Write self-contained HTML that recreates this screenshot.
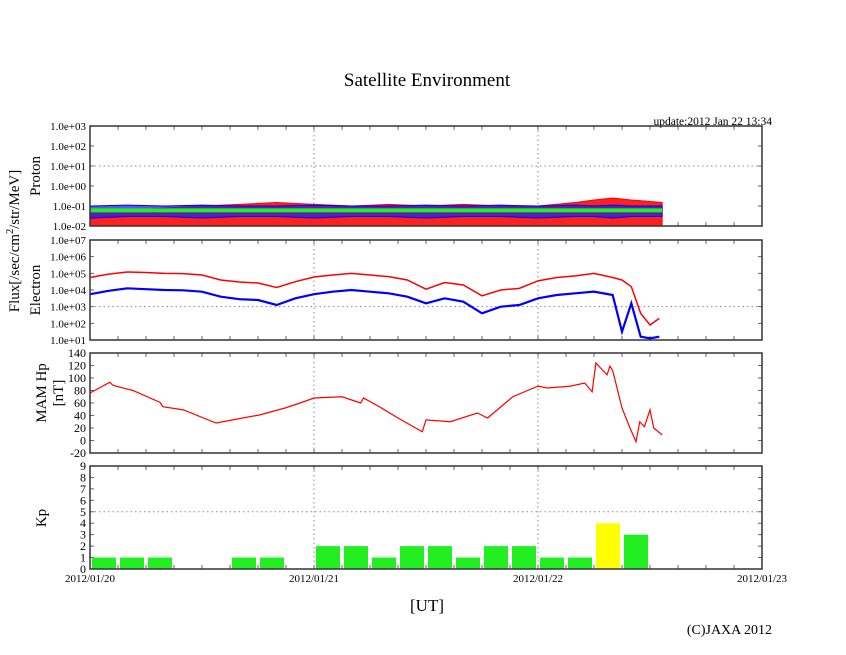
<!DOCTYPE html>
<html><head><meta charset="utf-8"><style>
html,body{margin:0;padding:0;background:#fff}
svg{display:block}
text{font-family:"Liberation Serif",serif;fill:#000}
</style></head><body>
<svg id="chart" width="846" height="655" viewBox="0 0 846 655" xmlns="http://www.w3.org/2000/svg">
<text x="427" y="86" font-size="19" text-anchor="middle">Satellite Environment</text>
<text x="772" y="125" font-size="11.5" text-anchor="end">update:2012 Jan 22 13:34</text>
<text transform="translate(19,241) rotate(-90)" font-size="15" text-anchor="middle">Flux[/sec/cm<tspan font-size="10" dy="-6">2</tspan><tspan dy="6">/str/MeV]</tspan></text>
<text transform="translate(40,176) rotate(-90)" font-size="15" text-anchor="middle">Proton</text>
<text transform="translate(40,290) rotate(-90)" font-size="15" text-anchor="middle">Electron</text>
<text transform="translate(46,393) rotate(-90)" font-size="15" text-anchor="middle">MAM Hp</text>
<text transform="translate(63,393) rotate(-90)" font-size="15" text-anchor="middle">[nT]</text>
<text transform="translate(46,518) rotate(-90)" font-size="15" text-anchor="middle">Kp</text>
<text x="427" y="611" font-size="17" text-anchor="middle">[UT]</text>
<text x="772" y="634" font-size="14" text-anchor="end">(C)JAXA 2012</text>
<g id="plots"></g>
</svg>
<script>
// ---- data ----
const xTickLabels = ["2012/01/20","2012/01/21","2012/01/22","2012/01/23"];
const protonTicks = ["1.0e+03","1.0e+02","1.0e+01","1.0e+00","1.0e-01","1.0e-02"];
const electronTicks = ["1.0e+07","1.0e+06","1.0e+05","1.0e+04","1.0e+03","1.0e+02","1.0e+01"];
const mamTicks = [140,120,100,80,60,40,20,0,-20];
const kpTicks = [9,8,7,6,5,4,3,2,1,0];
// electron (hours since 2012/01/20 00UT, log10 flux)
const eHours = [0,2,4,6,8,10,12,14,16,18,20,22,24,26,28,30,32,34,36,38,40,42,44,46,48,50,52,54,56,57,58,59,60,61];
const eRed   = [4.75,4.95,5.08,5.05,5.0,4.98,4.9,4.6,4.48,4.42,4.15,4.5,4.78,4.9,5.0,4.9,4.8,4.6,4.05,4.45,4.3,3.65,4.0,4.1,4.55,4.75,4.85,5.0,4.75,4.6,4.2,2.6,1.9,2.3];
const eBlue  = [3.75,3.95,4.1,4.05,4.0,3.98,3.9,3.6,3.45,3.4,3.1,3.5,3.75,3.9,4.0,3.9,3.8,3.6,3.2,3.5,3.3,2.6,3.0,3.1,3.5,3.7,3.8,3.9,3.7,1.5,3.2,1.2,1.1,1.2];
// MAM Hp (hours, nT)
const mHours = [0,2.1,2.5,4.6,7.5,7.8,10,13.5,15.3,18.2,20.9,22.5,24,27,29,29.3,31,33,35.6,36,38.6,41.5,42.6,45.3,48,49,51.5,53,53.8,54.2,55.4,55.7,56,57,57.8,58.5,58.9,59.4,60,60.4,61.3];
const mVals  = [76,93,88,80,61,54,49,28,33,41,52,60,68,70,60,68,54,36,14,33,30,44,36,70,87,84,87,92,78,124,105,119,112,52,22,-2,30,22,49,20,9];
// Kp (3-hour intervals)
const kpVals = [1,1,1,0,0,1,1,0, 2,2,1,2,2,1,2,2, 1,1,4,3];
// proton (hourly envelopes, flux)
const pHours = [0,4,8,12,16,20,24,28,32,36,40,44,48,52,54,56,58,61.3];
const pRedTop = [0.05,0.06,0.08,0.1,0.12,0.15,0.12,0.1,0.12,0.1,0.12,0.1,0.1,0.15,0.2,0.25,0.2,0.15];
const pBlueTop = [0.1,0.11,0.1,0.11,0.1,0.1,0.11,0.1,0.1,0.11,0.1,0.11,0.1,0.11,0.1,0.11,0.1,0.1];
const pBlueLow = [0.025,0.03,0.03,0.025,0.03,0.03,0.025,0.03,0.03,0.025,0.03,0.03,0.025,0.03,0.03,0.025,0.03,0.03];
const pGreen = [0.06,0.06,0.06,0.06,0.06,0.06,0.06,0.06,0.06,0.06,0.06,0.06,0.06,0.06,0.06,0.06,0.06,0.06];

const NS="http://www.w3.org/2000/svg";
const root=document.getElementById('plots');
const X0=90, X1=762, DAY=224;
const xs=h=>X0+h*DAY/24;
function mk(tag,attrs,parent){const e=document.createElementNS(NS,tag);for(const k in attrs)e.setAttribute(k,attrs[k]);(parent||root).appendChild(e);return e;}
const panels={proton:[126,226],electron:[240,340],mam:[353,453],kp:[466,569]};
function logY(p,top,bot){return v=>bot-(Math.log10(v)-p[1])/(p[0]-p[1])*(bot-top);}
const yP=v=>226-(Math.log10(v)+2)*20;
const yE=l=>340-(l-1)*(100/6);
const yM=v=>453-(v+20)*100/160;
const yK=v=>569-v*103/9;

// frames, ticks, grids
for(const name in panels){
  const [t,b]=panels[name];
  for(let d=1;d<=2;d++){
    const g=mk('line',{x1:xs(d*24),x2:xs(d*24),y1:t,y2:b,stroke:'#888','stroke-dasharray':'1.5,3','stroke-width':1});
    
    
  }
  for(let i=1;i<24;i++){
    const x=X0+i*28;
    const tk=mk('path',{d:`M${x},${t}v4M${x},${b}v-4`,stroke:'#666','stroke-width':1});
    
    
  }
}
function yTicks(name,labels,yfn,vals,fs){
  const [t,b]=panels[name];
  labels.forEach((lab,i)=>{
    const y=yfn(vals[i]);
    const tk=mk('path',{d:`M${X0},${y}h4M${X1},${y}h-4`,stroke:'#666','stroke-width':1});
    
    
    const tx=mk('text',{x:86,y:y+4,'font-size':fs,'text-anchor':'end'});
    tx.textContent=lab;
    
    
  });
}
yTicks('proton',protonTicks,yP,protonTicks.map(Number),11);
yTicks('electron',electronTicks,v=>yE(Math.log10(v)),electronTicks.map(Number),11);
yTicks('mam',mamTicks.map(String),yM,mamTicks,12);
yTicks('kp',kpTicks.map(String),yK,kpTicks,12);
// horizontal dotted grids
[[X0,yP(10),'proton-h-gridline'],[X0,yE(3),'electron-h-gridline'],[X0,yK(5),'kp-h-gridline']].forEach(g=>{
  const l=mk('line',{x1:X0,x2:X1,y1:g[1],y2:g[1],stroke:'#888','stroke-dasharray':'1.5,3'});
  
  
});

// proton series
function band(hours,top,low,yfn){let d='M'+hours.map((h,i)=>xs(h)+','+yfn(top[i])).join('L');
  for(let i=hours.length-1;i>=0;i--)d+='L'+xs(hours[i])+','+(low?yfn(low[i]):226);return d+'Z';}
const pr=mk('path',{d:band(pHours,pRedTop,null,yP),fill:'#ff2020',stroke:'#ff0000','stroke-width':1});


const pb=mk('path',{d:band(pHours,pBlueTop,pBlueLow,yP),fill:'#2020e0','fill-opacity':0.75,stroke:'#0000ff','stroke-width':1});


const pg=mk('polyline',{points:pHours.map((h,i)=>xs(h)+','+yP(pGreen[i])).join(' '),fill:'none',stroke:'#22ee22','stroke-width':4});



// electron series
const er=mk('polyline',{points:eHours.map((h,i)=>xs(h)+','+yE(eRed[i])).join(' '),fill:'none',stroke:'#ff0000','stroke-width':1.5});


const eb=mk('polyline',{points:eHours.map((h,i)=>xs(h)+','+Math.min(340,yE(eBlue[i]))).join(' '),fill:'none',stroke:'#0000ff','stroke-width':2.2});



// MAM
const ml=mk('polyline',{points:mHours.map((h,i)=>xs(h)+','+yM(mVals[i])).join(' '),fill:'none',stroke:'#ff0000','stroke-width':1.2});



// Kp bars
kpVals.forEach((v,i)=>{
  if(v<=0)return;
  const r=mk('rect',{x:X0+i*28+2,y:yK(v),width:24,height:569-yK(v),fill:v>=4?'#ffff00':'#22ee22'});
  
  
});

// frames on top
for(const name in panels){
  const [t,b]=panels[name];
  const f=mk('rect',{x:X0,y:t,width:X1-X0,height:b-t,fill:'none',stroke:'#333','stroke-width':1.5});
  
  
}
// x labels
xTickLabels.forEach((lab,i)=>{
  const t=mk('text',{x:X0+i*DAY,y:582,'font-size':11,'text-anchor':'middle'});
  t.textContent=lab;
  
  
});
</script>
</body></html>
